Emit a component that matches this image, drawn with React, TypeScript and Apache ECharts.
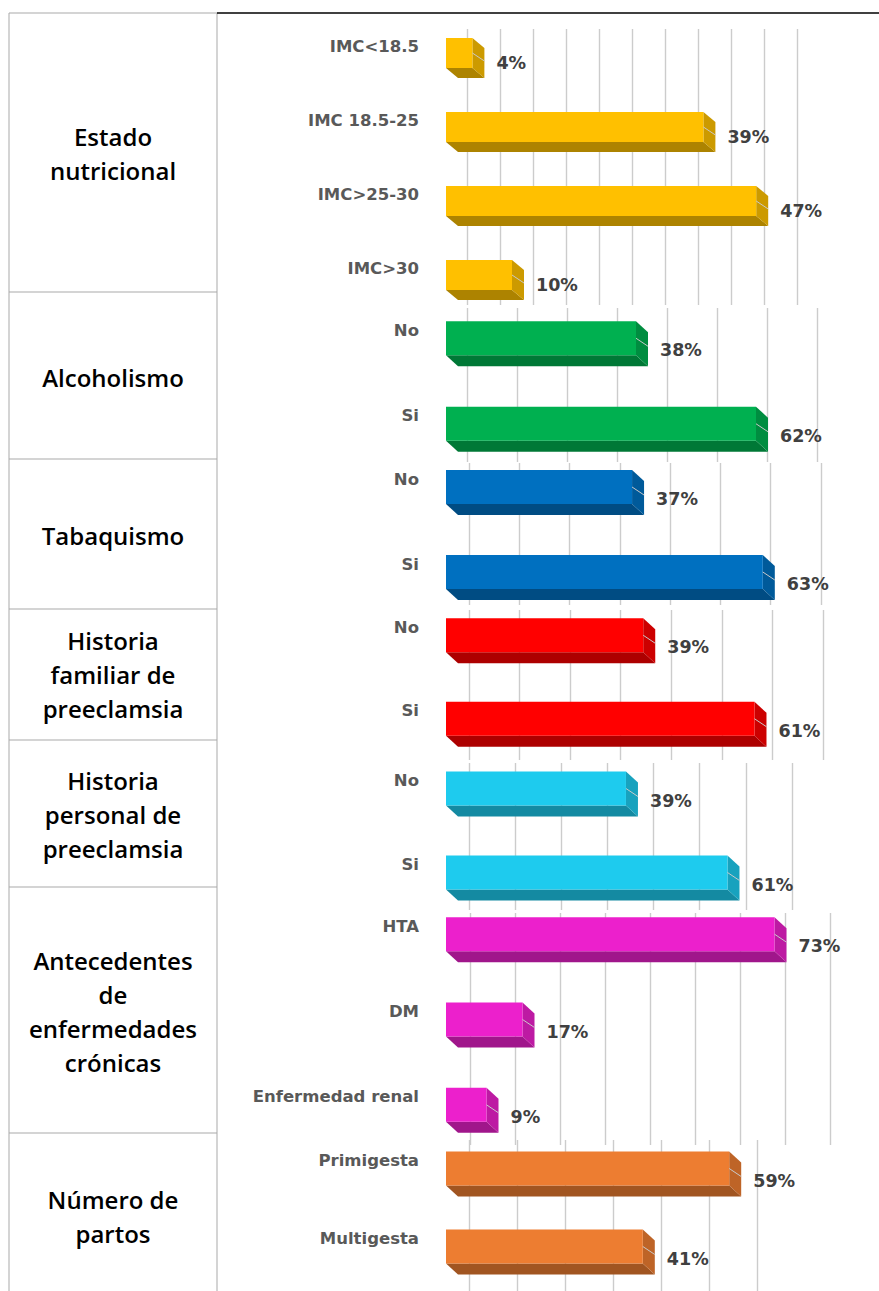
import { useEffect, useRef } from 'react';
import * as echarts from 'echarts';

// ---------------- data ----------------
const groupTitles = [
  'Estado\nnutricional',
  'Alcoholismo',
  'Tabaquismo',
  'Historia\nfamiliar de\npreeclamsia',
  'Historia\npersonal de\npreeclamsia',
  'Antecedentes\nde\nenfermedades\ncrónicas',
  'Número de\npartos',
];

const nutricionCategorias = ['IMC<18.5', 'IMC 18.5-25', 'IMC>25-30', 'IMC>30'];
const nutricionValores = [4, 39, 47, 10];

const alcoholismoCategorias = ['No', 'Si'];
const alcoholismoValores = [38, 62];

const tabaquismoCategorias = ['No', 'Si'];
const tabaquismoValores = [37, 63];

const histFamiliarCategorias = ['No', 'Si'];
const histFamiliarValores = [39, 61];

const histPersonalCategorias = ['No', 'Si'];
const histPersonalValores = [39, 61];

const antecedentesCategorias = ['HTA', 'DM', 'Enfermedad renal'];
const antecedentesValores = [73, 17, 9];

const partosCategorias = ['Primigesta', 'Multigesta'];
const partosValores = [59, 41];

// axis scales (max, tick interval) per panel
const axisMaxima = [50, 70, 70, 70, 70, 80, 60];
const axisIntervals = [5, 10, 10, 10, 10, 10, 10];

const categorySets = [
  nutricionCategorias,
  alcoholismoCategorias,
  tabaquismoCategorias,
  histFamiliarCategorias,
  histPersonalCategorias,
  antecedentesCategorias,
  partosCategorias,
];
const valueSets = [
  nutricionValores,
  alcoholismoValores,
  tabaquismoValores,
  histFamiliarValores,
  histPersonalValores,
  antecedentesValores,
  partosValores,
];

// ---------------- styles / layout ----------------
const panelColors = ['#FFC000', '#00B050', '#0070C0', '#FF0000', '#1ECBEE', '#EC20CC', '#ED7D31'];

const layout = [
  { top: 21, height: 296, left: 467, width: 330, lineTop: 29, lineBottom: 305, frontH: 30, dy: 10, lift: 12, boxTop: 13, textY: 153 },
  { top: 301, height: 171, left: 467, width: 350, lineTop: 308, lineBottom: 462, frontH: 34, dy: 11, lift: 13.5, boxTop: 292, textY: 377 },
  { top: 450, height: 170, left: 469, width: 352, lineTop: 463, lineBottom: 605, frontH: 34, dy: 11, lift: 13.5, boxTop: 459, textY: 535 },
  { top: 599, height: 167, left: 469, width: 354, lineTop: 610, lineBottom: 760, frontH: 34, dy: 11, lift: 13.5, boxTop: 609, textY: 674 },
  { top: 752, height: 168, left: 469, width: 323, lineTop: 763, lineBottom: 910, frontH: 34, dy: 11, lift: 13.5, boxTop: 740, textY: 814 },
  { top: 897, height: 256, left: 470, width: 360, lineTop: 913, lineBottom: 1145, frontH: 34, dy: 11, lift: 13.5, boxTop: 887, textY: 1011 },
  { top: 1135, height: 171, left: 469, width: 288, lineTop: 1140, lineBottom: 1291, frontH: 34, dy: 11, lift: 13.5, boxTop: 1133, textY: 1216 },
];

const FRONT_LEFT = 446;
const DX = 12;
const CHART_W = 879;
const CHART_H = 1291;

function darken(hex: string, f: number) {
  const n = parseInt(hex.slice(1), 16);
  const r = Math.round(((n >> 16) & 255) * (1 - f));
  const g = Math.round(((n >> 8) & 255) * (1 - f));
  const b = Math.round((n & 255) * (1 - f));
  return `rgb(${r},${g},${b})`;
}

function buildOption() {
  const grid: any[] = [];
  const xAxis: any[] = [];
  const yAxis: any[] = [];
  const series: any[] = [];

  layout.forEach((L, i) => {
    grid.push({ left: L.left, top: L.top, width: L.width, height: L.height });
    grid.push({ left: L.left, top: L.lineTop, width: L.width, height: L.lineBottom - L.lineTop });

    xAxis.push({
      gridIndex: 2 * i,
      type: 'value',
      min: 0,
      max: axisMaxima[i],
      interval: axisIntervals[i],
      axisLabel: { show: false },
      axisLine: { show: false },
      axisTick: { show: false },
      splitLine: { show: false },
    });
    xAxis.push({
      gridIndex: 2 * i + 1,
      type: 'value',
      min: 0,
      max: axisMaxima[i],
      interval: axisIntervals[i],
      axisLabel: { show: false },
      axisLine: { show: false },
      axisTick: { show: false },
      splitLine: { show: true, lineStyle: { color: '#cccccc', width: 1.4 } },
    });

    yAxis.push({
      gridIndex: 2 * i,
      type: 'category',
      inverse: true,
      data: categorySets[i],
      axisLine: { show: false },
      axisTick: { show: false },
      splitLine: { show: false },
      axisLabel: {
        margin: L.left - 419,
        fontFamily: 'DejaVu Sans',
        fontWeight: 'bold',
        fontSize: 16.5,
        color: '#595959',
        verticalAlign: 'bottom',
        lineHeight: L.lift * 2,
      },
    });
    yAxis.push({
      gridIndex: 2 * i + 1,
      type: 'value',
      min: 0,
      max: 1,
      show: false,
    });

    const color = panelColors[i];
    const bottomColor = darken(color, 0.32);
    const sideColor = darken(color, 0.2);

    series.push({
      type: 'custom',
      xAxisIndex: 2 * i,
      yAxisIndex: 2 * i,
      clip: false,
      encode: { x: 0, y: 1 },
      data: valueSets[i].map((v, j) => [v, j]),
      renderItem: (params: any, api: any) => {
        const v = api.value(0);
        const idx = api.value(1);
        const p0 = api.coord([0, idx]);
        const p1 = api.coord([v, idx]);
        const shift = L.left - FRONT_LEFT;
        const xf0 = p0[0] - shift;
        const xf1 = p1[0] - shift;
        const h = L.frontH;
        const dy = L.dy;
        const ft = p0[1] - (h + dy) / 2;
        const fb = ft + h;
        return {
          type: 'group',
          children: [
            {
              type: 'polygon',
              shape: { points: [[xf0, fb], [xf1, fb], [xf1 + DX, fb + dy], [xf0 + DX, fb + dy]] },
              style: { fill: bottomColor },
            },
            {
              type: 'polygon',
              shape: { points: [[xf1, ft], [xf1 + DX, ft + dy], [xf1 + DX, fb + dy], [xf1, fb]] },
              style: { fill: sideColor },
            },
            {
              type: 'rect',
              shape: { x: xf0, y: ft, width: xf1 - xf0, height: h },
              style: { fill: color },
            },
            {
              type: 'line',
              shape: { x1: xf1, y1: ft + h / 2, x2: xf1 + DX, y2: ft + h / 2 + 8 },
              style: { stroke: '#c9c9c9', lineWidth: 1 },
            },
            {
              type: 'text',
              x: xf1 + DX + 12,
              y: fb - 5,
              style: {
                text: v + '%',
                fill: '#404040',
                fontFamily: 'DejaVu Sans',
                fontWeight: 'bold',
                fontSize: 17.5,
                align: 'left',
                verticalAlign: 'middle',
              },
            },
          ],
        };
      },
    });
  });

  const graphic: any[] = [];
  const boxColor = '#a9a9a9';
  graphic.push({ type: 'line', shape: { x1: 9, y1: 13, x2: 9, y2: CHART_H }, style: { stroke: boxColor, lineWidth: 1 } });
  graphic.push({ type: 'line', shape: { x1: 217, y1: 13, x2: 217, y2: CHART_H }, style: { stroke: boxColor, lineWidth: 1 } });
  layout.forEach((L) => {
    graphic.push({ type: 'line', shape: { x1: 9, y1: L.boxTop, x2: 217, y2: L.boxTop }, style: { stroke: boxColor, lineWidth: 1 } });
  });
  graphic.push({ type: 'line', shape: { x1: 217, y1: 13, x2: CHART_W, y2: 13 }, style: { stroke: '#000', lineWidth: 1.6 } });

  layout.forEach((L, i) => {
    graphic.push({
      type: 'text',
      x: 113,
      y: L.textY,
      style: {
        text: groupTitles[i],
        fill: '#000',
        fontFamily: 'Open Sans',
        fontWeight: 600,
        fontSize: 24,
        lineHeight: 34,
        align: 'center',
        verticalAlign: 'middle',
      },
    });
  });

  return {
    animation: false,
    backgroundColor: '#fff',
    grid,
    xAxis,
    yAxis,
    series,
    graphic,
  };
}

export default function App() {
  const ref = useRef<HTMLDivElement>(null);
  useEffect(() => {
    if (!ref.current) return;
    const chart = echarts.init(ref.current, null, { renderer: 'svg' });
    chart.setOption(buildOption() as any);
    return () => chart.dispose();
  }, []);
  return (
    <div
      ref={ref}
      style={{ position: 'absolute', left: 0, top: 0, width: CHART_W, height: CHART_H, background: '#fff' }}
    />
  );
}
